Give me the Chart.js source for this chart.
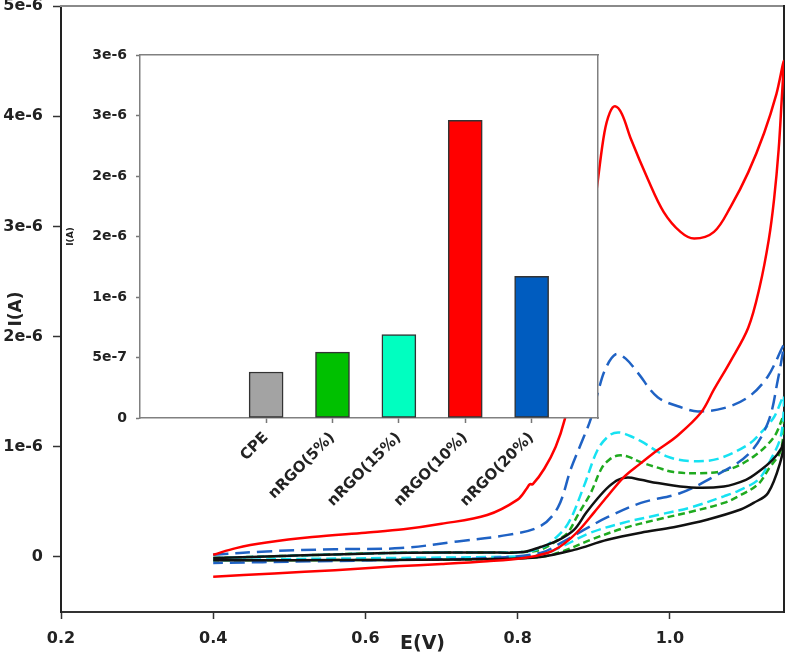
<!DOCTYPE html>
<html>
<head>
<meta charset="utf-8">
<script src="https://cdn.jsdelivr.net/npm/chart.js@4.4.1/dist/chart.umd.min.js"></script>
<style>
  html, body { margin: 0; padding: 0; background: #fff; }
  #wrap { position: relative; width: 787px; height: 657px; }
  #mainChart { position: absolute; left: 0; top: 0; }
  #barChart { position: absolute; left: 60px; top: 40px; }
</style>
</head>
<body>
<div id="wrap">
  <canvas id="mainChart" width="787" height="657"></canvas>
  <canvas id="barChart" width="545" height="480"></canvas>
</div>
<script>
const FONT = 'DejaVu Sans';

// CV scans: E in V, I in uA. Forward branch, then the reverse branch back to 0.4 V
const cpeFwdE = [0.400, 0.500, 0.633, 0.760, 0.808, 0.830, 0.853, 0.874, 0.890, 0.905, 0.920, 0.932, 0.945, 0.962, 0.984, 1.028, 1.071, 1.100, 1.116, 1.135, 1.146, 1.150];
const cpeFwdI = [-0.01, 0.01, 0.036, 0.04, 0.045, 0.09, 0.15, 0.245, 0.40, 0.53, 0.64, 0.70, 0.72, 0.70, 0.67, 0.63, 0.64, 0.70, 0.77, 0.88, 0.98, 1.06];
const cpeRevE = [1.146, 1.129, 1.110, 1.093, 1.050, 1.005, 0.962, 0.918, 0.874, 0.830, 0.764, 0.633, 0.500, 0.400];
const cpeRevI = [0.88, 0.58, 0.49, 0.43, 0.34, 0.27, 0.22, 0.155, 0.064, 0.0, -0.02, -0.027, -0.03, -0.03];

const rgo5FwdE = [0.400, 0.500, 0.633, 0.760, 0.808, 0.830, 0.853, 0.866, 0.879, 0.896, 0.910, 0.920, 0.932, 0.945, 0.962, 0.984, 1.005, 1.040, 1.076, 1.110, 1.137, 1.150];
const rgo5FwdI = [-0.01, 0.01, 0.036, 0.04, 0.045, 0.064, 0.155, 0.22, 0.38, 0.58, 0.80, 0.88, 0.92, 0.91, 0.86, 0.81, 0.77, 0.76, 0.79, 0.91, 1.09, 1.28];
const rgo5RevE = [1.146, 1.130, 1.116, 1.090, 1.071, 1.028, 0.984, 0.939, 0.896, 0.857, 0.830, 0.764, 0.633, 0.500, 0.400];
const rgo5RevI = [0.97, 0.80, 0.66, 0.55, 0.49, 0.41, 0.34, 0.26, 0.155, 0.045, 0.0, -0.02, -0.027, -0.03, -0.03];

const rgo15FwdE = [0.400, 0.500, 0.633, 0.760, 0.808, 0.830, 0.843, 0.866, 0.887, 0.905, 0.920, 0.932, 0.947, 0.962, 0.997, 1.028, 1.063, 1.103, 1.120, 1.137, 1.150];
const rgo15FwdI = [-0.01, 0.01, 0.036, 0.04, 0.045, 0.08, 0.13, 0.30, 0.64, 0.97, 1.10, 1.13, 1.10, 1.05, 0.91, 0.87, 0.89, 1.02, 1.13, 1.27, 1.46];
const rgo15RevE = [1.146, 1.130, 1.116, 1.090, 1.071, 1.028, 0.984, 0.939, 0.896, 0.857, 0.830, 0.764, 0.633, 0.500, 0.400];
const rgo15RevI = [1.10, 0.85, 0.70, 0.60, 0.55, 0.45, 0.38, 0.31, 0.22, 0.09, 0.02, 0.0, -0.01, -0.02, -0.03];

const rgo10FwdE = [0.400, 0.430, 0.470, 0.530, 0.600, 0.650, 0.700, 0.760, 0.800, 0.812, 0.816, 0.820, 0.835, 0.850, 0.862, 0.874, 0.886, 0.897, 0.906, 0.914, 0.921, 0.928, 0.937, 0.949, 0.971, 0.992, 1.014, 1.032, 1.058, 1.080, 1.103, 1.124, 1.140, 1.150];
const rgo10FwdI = [0.02, 0.08, 0.13, 0.18, 0.22, 0.25, 0.30, 0.38, 0.52, 0.62, 0.66, 0.66, 0.80, 1.00, 1.25, 1.65, 2.25, 2.95, 3.45, 3.85, 4.03, 4.09, 4.02, 3.79, 3.43, 3.13, 2.95, 2.89, 2.95, 3.18, 3.49, 3.85, 4.20, 4.50];
const rgo10RevE = [1.147, 1.143, 1.137, 1.130, 1.118, 1.103, 1.080, 1.058, 1.041, 1.010, 0.984, 0.960, 0.939, 0.918, 0.900, 0.883, 0.870, 0.855, 0.839, 0.808, 0.760, 0.700, 0.640, 0.560, 0.480, 0.400];
const rgo10RevI = [4.15, 3.70, 3.25, 2.88, 2.45, 2.08, 1.78, 1.52, 1.31, 1.10, 0.97, 0.84, 0.72, 0.55, 0.40, 0.26, 0.17, 0.09, 0.036, -0.01, -0.04, -0.065, -0.085, -0.12, -0.15, -0.18];

const rgo20FwdE = [0.400, 0.470, 0.560, 0.646, 0.721, 0.787, 0.830, 0.853, 0.870, 0.887, 0.896, 0.905, 0.915, 0.929, 0.942, 0.958, 0.984, 1.018, 1.037, 1.071, 1.103, 1.129, 1.150];
const rgo20FwdI = [0.02, 0.05, 0.07, 0.08, 0.14, 0.20, 0.28, 0.45, 0.80, 1.09, 1.25, 1.48, 1.70, 1.84, 1.80, 1.67, 1.45, 1.35, 1.32, 1.35, 1.45, 1.64, 1.92];
const rgo20RevE = [1.142, 1.129, 1.103, 1.058, 1.014, 0.962, 0.918, 0.887, 0.857, 0.830, 0.764, 0.646, 0.530, 0.400];
const rgo20RevI = [1.61, 1.22, 0.93, 0.73, 0.58, 0.49, 0.36, 0.245, 0.127, 0.036, -0.01, -0.027, -0.04, -0.055];

const xTicks = [0.2, 0.4, 0.6, 0.8, 1.0];
const xTickLabels = ['0.2', '0.4', '0.6', '0.8', '1.0'];
const yTicks = [0, 1, 2, 3, 4, 5];
const yTickLabels = ['0', '1e-6', '2e-6', '3e-6', '4e-6', '5e-6'];

// inset bar chart (peak current, uA)
const barLabels = ['CPE', 'nRGO(5%)', 'nRGO(15%)', 'nRGO(10%)', 'nRGO(20%)'];
const barValues = [0.38, 0.545, 0.69, 2.46, 1.17];
const barColors = ['#a3a3a3', '#00c000', '#00ffc0', '#ff0000', '#005cbf'];
const barTicks = [0, 0.5, 1, 1.5, 2, 2.5, 3];
const barTickLabels = ['0', '5e-7', '1e-6', '2e-6', '2e-6', '3e-6', '3e-6'];

function loop(fe, fi, re, ri) {
    const fwd = fe.map((e, i) => ({ x: e, y: fi[i] }));
    const rev = re.map((e, i) => ({ x: e, y: ri[i] }));
    return fwd.concat(rev);
}

function cv(data, color, dash) {
    return { data, borderColor: color, borderWidth: 2.5, borderDash: dash, pointRadius: 0, tension: 0.35, fill: false };
}

const boldFont = size => ({ family: FONT, size, weight: 'bold' });

// keep the end tick labels from pushing the plot area in
const noLabelPad = s => { s.paddingTop = 0; s.paddingBottom = 0; };

new Chart(document.getElementById('mainChart'), {
    type: 'line',
    data: {
        datasets: [
            cv(loop(rgo10FwdE, rgo10FwdI, rgo10RevE, rgo10RevI), '#ff0000', []),
            cv(loop(cpeFwdE, cpeFwdI, cpeRevE, cpeRevI), '#111111', []),
            cv(loop(rgo20FwdE, rgo20FwdI, rgo20RevE, rgo20RevI), '#1f62c4', [15, 7]),
            cv(loop(rgo15FwdE, rgo15FwdI, rgo15RevE, rgo15RevI), '#16e2f2', [10, 5]),
            cv(loop(rgo5FwdE, rgo5FwdI, rgo5RevE, rgo5RevI), '#1faa1f', [7, 4])
        ]
    },
    options: {
        responsive: false,
        animation: false,
        layout: { padding: { top: 6, right: 3, left: 0, bottom: 0 } },
        plugins: { legend: { display: false }, tooltip: { enabled: false } },
        scales: {
            x: {
                type: 'linear', min: 0.2, max: 1.15,
                afterBuildTicks: s => { s.ticks = xTicks.map(v => ({ value: v })); },
                afterFit: s => { s.height = 45; },
                ticks: { callback: v => xTickLabels[xTicks.indexOf(v)], font: boldFont(16), color: '#222', padding: 10, autoSkip: false, maxRotation: 0 },
                grid: { drawOnChartArea: false, tickLength: 7, tickColor: '#333', tickWidth: 1.5 },
                border: { color: '#333', width: 2 },
                title: { display: true, text: 'E(V)', font: boldFont(19), color: '#222', padding: { top: 0, bottom: 2 } }
            },
            y: {
                type: 'linear', min: -0.5, max: 5,
                afterBuildTicks: s => { s.ticks = yTicks.map(v => ({ value: v })); },
                afterFit: s => { s.width = 61; noLabelPad(s); },
                ticks: { callback: v => yTickLabels[yTicks.indexOf(v)], font: boldFont(16), color: '#222', padding: 10, autoSkip: false },
                grid: { drawOnChartArea: false, tickLength: 8, tickColor: '#333', tickWidth: 1.5 },
                border: { color: '#222', width: 2 },
                title: { display: true, text: 'I(A)', font: boldFont(17), color: '#222', padding: { top: 6, bottom: 0 } }
            },
            x2: {
                type: 'linear', position: 'top', min: 0.2, max: 1.15,
                ticks: { display: false }, grid: { display: false, drawTicks: false },
                border: { color: '#8a8a8a', width: 2 },
                afterFit: s => { s.height = 0; }
            },
            y2: {
                type: 'linear', position: 'right', min: -0.5, max: 5,
                ticks: { display: false }, grid: { display: false, drawTicks: false },
                border: { color: '#222', width: 2 },
                afterFit: s => { s.width = 0; noLabelPad(s); }
            }
        }
    }
});

// white plot area so the inset hides the curves behind it
const insetBg = {
    id: 'insetBg',
    beforeDraw(chart) {
        const { ctx, chartArea: a } = chart;
        ctx.save();
        ctx.fillStyle = '#fff';
        ctx.fillRect(a.left, a.top, a.right - a.left, a.bottom - a.top);
        ctx.restore();
    }
};

new Chart(document.getElementById('barChart'), {
    type: 'bar',
    data: {
        datasets: [{
            data: barValues.map((v, i) => ({ x: i + 1, y: v })),
            backgroundColor: barColors,
            borderColor: '#333',
            borderWidth: 1.5,
            borderSkipped: false,
            barThickness: 34
        }]
    },
    plugins: [insetBg],
    options: {
        responsive: false,
        animation: false,
        layout: { padding: { top: 15, right: 7, left: 0, bottom: 0 } },
        plugins: { legend: { display: false }, tooltip: { enabled: false } },
        scales: {
            x: {
                type: 'linear', min: -0.9, max: 6, offset: false,
                afterBuildTicks: s => { s.ticks = barLabels.map((_, i) => ({ value: i + 1 })); },
                afterFit: s => { s.height = 102; },
                ticks: { callback: v => barLabels[Math.round(v) - 1], font: boldFont(15), color: '#222', padding: 6, autoSkip: false, minRotation: 45, maxRotation: 45 },
                grid: { offset: false, drawOnChartArea: false, tickLength: 5, tickColor: '#777', tickWidth: 1.5 },
                border: { color: '#808080', width: 1.5 }
            },
            y: {
                type: 'linear', min: 0, max: 3,
                afterBuildTicks: s => { s.ticks = barTicks.map(v => ({ value: v })); },
                afterFit: s => { s.width = 80; noLabelPad(s); },
                ticks: { callback: v => barTickLabels[barTicks.indexOf(v)], font: boldFont(14), color: '#222', padding: 9, autoSkip: false },
                grid: { drawOnChartArea: false, tickLength: 4, tickColor: '#777', tickWidth: 1.5 },
                border: { color: '#808080', width: 1.5 },
                title: { display: true, text: 'I(A)', font: boldFont(9), color: '#222', padding: { top: 5, bottom: 0 } }
            },
            x2: {
                type: 'linear', position: 'top', min: -0.9, max: 6,
                ticks: { display: false }, grid: { display: false, drawTicks: false },
                border: { color: '#808080', width: 1.5 },
                afterFit: s => { s.height = 0; }
            },
            y2: {
                type: 'linear', position: 'right', min: 0, max: 3,
                ticks: { display: false }, grid: { display: false, drawTicks: false },
                border: { color: '#808080', width: 1.5 },
                afterFit: s => { s.width = 0; noLabelPad(s); }
            }
        }
    }
});
</script>
</body>
</html>
